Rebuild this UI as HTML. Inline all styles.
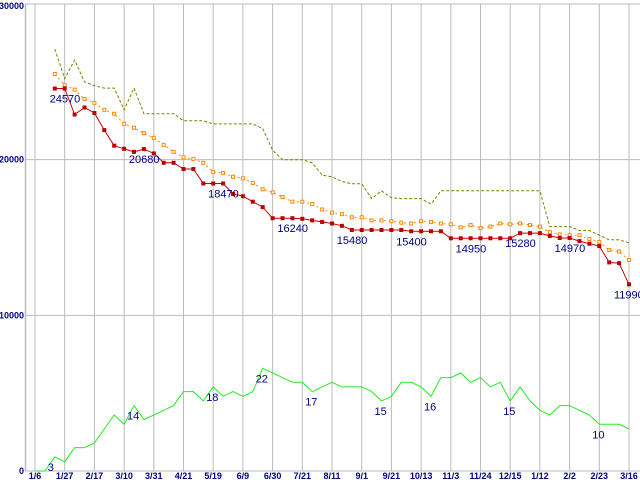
<!DOCTYPE html>
<html><head><meta charset="utf-8"><style>
html,body{margin:0;padding:0;background:#fff;}
svg{display:block;font-family:"Liberation Sans",sans-serif;}
.ax{font-size:9px;fill:#000080;font-weight:bold;}
.dl{font-size:11px;fill:#000080;}
</style></head><body>
<svg id="chart" width="640" height="480" viewBox="0 0 640 480" xmlns="http://www.w3.org/2000/svg"></svg>
<script>
const xLabels=["1/6","1/27","2/17","3/10","3/31","4/21","5/19","6/9","6/30","7/21","8/11","9/1","9/21","10/13","11/3","11/24","12/15","1/12","2/2","2/23","3/16"];
const yTicks=[0,10000,20000,30000];
const redStart=2;
const redValues=[24.57,24.57,22.9,23.35,23.0,21.9,20.9,20.7,20.5,20.68,20.4,19.8,19.8,19.4,19.4,18.47,18.47,18.47,17.8,17.65,17.3,16.95,16.24,16.24,16.24,16.2,16.1,16.0,15.9,15.75,15.48,15.48,15.48,15.48,15.48,15.48,15.4,15.4,15.4,15.4,14.95,14.95,14.95,14.95,14.95,14.95,14.95,15.28,15.28,15.28,15.1,14.97,14.97,14.77,14.6,14.45,13.4,13.35,11.99];
const orangeValues=[25.5,24.8,24.5,23.9,23.65,23.2,22.95,22.3,22.05,21.7,21.4,20.95,20.5,20.15,20.05,19.8,19.2,19.15,18.9,18.8,18.5,18.1,17.9,17.6,17.3,17.3,17.15,16.8,16.6,16.5,16.3,16.3,16.1,16.1,16.05,15.95,15.9,16.05,16.0,15.9,15.85,15.65,15.8,15.6,15.7,15.9,15.85,15.9,15.8,15.7,15.35,15.2,15.15,15.15,14.9,14.7,14.2,14.1,13.55];
const oliveValues=[27.1,25.2,26.4,25.0,24.75,24.6,24.6,23.2,24.6,22.95,22.95,22.95,22.95,22.5,22.5,22.5,22.3,22.3,22.3,22.3,22.3,22.0,20.6,20.0,20.0,20.0,19.8,19.0,18.9,18.6,18.45,18.45,17.5,18.0,17.55,17.5,17.5,17.5,17.15,18.0,18.0,18.0,18.0,18.0,18.0,18.0,18.0,18.0,18.0,18.0,15.7,15.7,15.7,15.45,15.45,15.15,14.85,14.85,14.65];
const greenValues=[0,0,3,2,5,5,6,9,12,10,14,11,12,13,14,17,17,15,18,16,17,16,17,22,21,20,19,19,17,18,19,18,18,18,17,15,16,19,19,18,16,20,20,21,19,20,18,19,15,18,15,13,12,14,14,13,12,10,10,10,9];
const redLabels=[[3,"24570"],[11,"20680"],[19,"18470"],[26,"16240"],[32,"15480"],[38,"15400"],[44,"14950"],[49,"15280"],[54,"14970"],[60,"11990"]];
const greenLabels=[2,10,18,23,28,35,40,48,57];

const NS="http://www.w3.org/2000/svg";
const svg=document.getElementById('chart');
const X0=35,DX=9.9,Y0=471,YT=4;
const xs=i=>X0+DX*i;
const ys=v=>Y0-(v/30000)*(Y0-YT);
function el(t,a,p){const e=document.createElementNS(NS,t);for(const k in a)e.setAttribute(k,a[k]);(p||svg).appendChild(e);return e;}

const grid=el('g',{});


yTicks.forEach(v=>{
  const l=el('line',{x1:25,x2:640,y1:ys(v),y2:ys(v),stroke:'#bbbbbb','stroke-width':1},grid);
  
  
  const t=el('text',{x:24,y:ys(v)+(v===30000?5:3),'text-anchor':'end',class:'ax'});
  t.textContent=v;
  
  
});
xLabels.forEach((s,k)=>{
  const x=xs(k*3);
  const l=el('line',{x1:x,x2:x,y1:YT,y2:Y0,stroke:'#bbbbbb','stroke-width':1},grid);
  
  
  const t=el('text',{x:x,y:479,'text-anchor':'middle',class:'ax'});
  t.textContent=s;
  
  
});
const ya=el('line',{x1:25.5,x2:25.5,y1:YT,y2:Y0,stroke:'#bbbbbb','stroke-width':1.5});



function pts(vals,start,scale){return vals.map((v,j)=>xs(start+j).toFixed(1)+','+ys(v*scale).toFixed(1)).join(' ');}

const gl=el('polyline',{points:pts(greenValues,0,300),fill:'none',stroke:'#22ee22','stroke-width':1});



const ol=el('polyline',{points:pts(oliveValues,redStart,1000),fill:'none',stroke:'#808000','stroke-width':1,'stroke-dasharray':'3,2'});



const orl=el('polyline',{points:pts(orangeValues,redStart,1000),fill:'none',stroke:'#ff8800','stroke-width':1,'stroke-dasharray':'2,3'});


orangeValues.forEach((v,j)=>{
  const r=el('rect',{x:xs(redStart+j)-1.5,y:ys(v*1000)-1.5,width:3,height:3,fill:'#fff',stroke:'#ff8800','stroke-width':1});
  
  
});

const rl=el('polyline',{points:pts(redValues,redStart,1000),fill:'none',stroke:'#cc0000','stroke-width':1});


redValues.forEach((v,j)=>{
  const r=el('rect',{x:xs(redStart+j)-2,y:ys(v*1000)-2,width:4,height:4,fill:'#bb0000'});
  
  
});

redLabels.forEach(([i,s])=>{
  const v=redValues[i-redStart]*1000;
  const t=el('text',{x:xs(i)-15,y:ys(v)+14,class:'dl'});
  t.textContent=s;
  
  
});
greenLabels.forEach(i=>{
  const t=el('text',{x:xs(i)-7,y:ys(greenValues[i]*300)+14,class:'dl'});
  t.textContent=greenValues[i];
  
  
});
</script>
</body></html>
